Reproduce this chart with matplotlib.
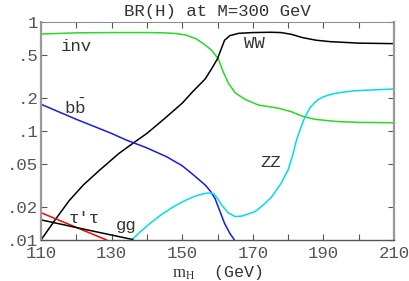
import matplotlib
matplotlib.use("Agg")
import matplotlib.pyplot as plt
from matplotlib.ticker import FixedLocator, NullFormatter

plt.rcParams["font.family"] = ["Liberation Mono", "DejaVu Sans Mono"]
plt.rcParams["mathtext.fontset"] = "custom"
plt.rcParams["mathtext.rm"] = "Liberation Mono"
plt.rcParams["mathtext.sf"] = "Liberation Serif"

# --- data ---
inv_m = [110, 115, 120, 130, 140, 145, 148, 151, 154, 156.5, 158.3, 160.2, 161.6,
         163.1, 165, 167.8, 171.6, 177.2, 181, 183.9, 187.6, 194, 200, 210]
inv_br = [0.776, 0.785, 0.795, 0.80, 0.80, 0.795, 0.785, 0.76, 0.70, 0.615, 0.553, 0.46, 0.35,
          0.274, 0.224, 0.195, 0.173, 0.162, 0.150, 0.137, 0.128, 0.122, 0.120, 0.119]

ww_m = [110, 114, 118, 122, 126.7, 132, 136, 140, 145, 150, 153, 156.5, 158.5, 160,
        161, 162, 163.5, 166, 170, 175, 178, 181, 184, 188, 192, 196, 200, 210]
ww_br = [0.01, 0.0153, 0.023, 0.032, 0.044, 0.062, 0.077, 0.095, 0.13, 0.18, 0.23, 0.30, 0.38, 0.46,
         0.56, 0.68, 0.75, 0.787, 0.80, 0.805, 0.80, 0.77, 0.72, 0.68, 0.66, 0.65, 0.64, 0.633]

bb_m = [110, 120, 130, 134, 140, 145.6, 150, 153, 156.5, 158, 159.3, 160.5, 162, 163.5, 164.8]
bb_br = [0.176, 0.128, 0.095, 0.083, 0.07, 0.058, 0.048, 0.04, 0.032, 0.028, 0.024, 0.019,
         0.0142, 0.0115, 0.01]

zz_m = [135.7, 138, 140.9, 144, 147.5, 151, 154, 156.5, 158, 159, 160, 161.2, 163, 165, 167,
        170.6, 173, 175.4, 178, 180, 181.3, 182.4, 183.5, 184.8, 186.2, 187.5, 188.6, 190,
        192.4, 195, 199, 205, 210]
zz_br = [0.01, 0.0118, 0.0142, 0.017, 0.0202, 0.0232, 0.0255, 0.0268, 0.027, 0.0265, 0.024, 0.0209,
         0.0178, 0.0164, 0.0166, 0.0182, 0.021, 0.025, 0.033, 0.044, 0.06, 0.083, 0.105, 0.135,
         0.163, 0.182, 0.195, 0.206, 0.218, 0.226, 0.234, 0.239, 0.243]

tau_m = [110, 128.6]
tau_br = [0.0178, 0.01]

gg_m = [110, 123, 136]
gg_br = [0.0153, 0.0124, 0.0101]

y_ticks = [0.01, 0.02, 0.05, 0.1, 0.2, 0.5, 1]
y_labels = [".01", ".02", ".05", ".1", ".2", ".5", "1"]
x_ticks = [110, 130, 150, 170, 190, 210]

fig = plt.figure(figsize=(4.10, 2.81), dpi=100)
ax = fig.add_axes([41 / 410, 41 / 281, 353 / 410, 218 / 281])

ax.plot(inv_m, inv_br, color="#22dd22", lw=1.1)
ax.plot(ww_m, ww_br, color="black", lw=1.1)
ax.plot(bb_m, bb_br, color="#1a1ae6", lw=1.1)
ax.plot(zz_m, zz_br, color="#00e0e0", lw=1.1)
ax.plot(tau_m, tau_br, color="red", lw=1.1)
ax.plot(gg_m, gg_br, color="black", lw=1.1)

ax.set_yscale("log")
ax.set_xlim(110, 210)
ax.set_ylim(0.01, 1)

ax.yaxis.set_major_locator(FixedLocator(y_ticks))
ax.set_yticklabels(y_labels)
ax.yaxis.set_minor_formatter(NullFormatter())
ax.yaxis.set_minor_locator(FixedLocator([]))
ax.set_xticks(x_ticks)
ax.set_xticks(range(120, 210, 20), minor=True)

ax.tick_params(which="both", direction="in", top=True, right=True,
               labelsize=12.5, labelcolor="#555555", color="#555555")
ax.tick_params(axis="x", pad=4)
ax.tick_params(axis="y", pad=2)
ax.tick_params(which="major", length=4, width=0.8)
ax.tick_params(which="minor", length=4, width=0.8)

for side in ["left", "right"]:
    ax.spines[side].set_color("#999999")
    ax.spines[side].set_linewidth(1.6)
ax.spines["bottom"].set_color("#555555")
ax.spines["bottom"].set_linewidth(1.0)
ax.spines["top"].set_color("#888888")
ax.spines["top"].set_linewidth(0.7)

txt = dict(fontsize=12.5, color="#333333", ha="center", va="center")
ax.text(120, 0.60, "inv", **txt)
ax.text(119.7, 0.165, r"$\mathrm{b\bar{b}}$", **txt)
ax.text(170.5, 0.63, "WW", **txt)
ax.text(175, 0.051, "ZZ", **txt)
ax.text(122.3, 0.0158, "\u03c4'\u03c4", **txt)
ax.text(134, 0.0135, "gg", **txt)

ax.set_title("BR(H) at M=300 GeV", fontsize=12.5, color="#333333", pad=4)
ax.set_xlabel(r"$\mathsf{m_H}$  (GeV)", fontsize=12, color="#333333", labelpad=2)

fig.savefig("out.png", dpi=100)
